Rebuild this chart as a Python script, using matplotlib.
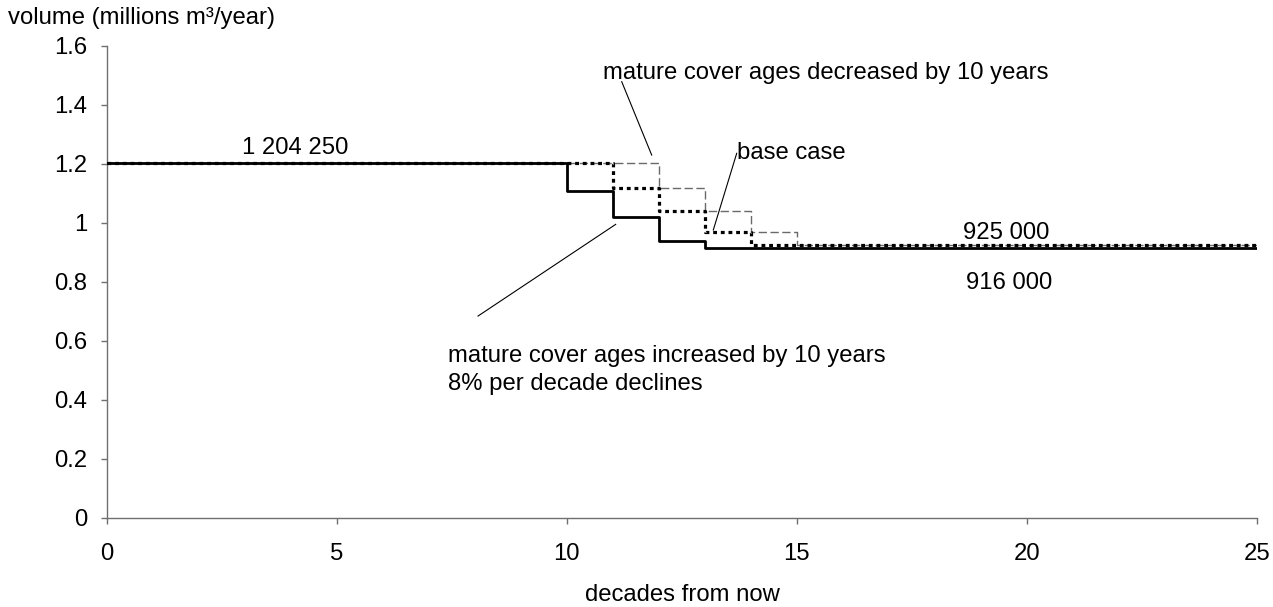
import matplotlib
matplotlib.use("Agg")
import matplotlib.pyplot as plt

plt.rcParams['font.family'] = ['Liberation Sans', 'DejaVu Sans']

# Harvest volume scenarios (millions m3/year), step changes per decade
x_increased = [0, 10, 11, 12, 13, 25]
y_increased = [1.20425, 1.1079, 1.0193, 0.9377, 0.916, 0.916]

x_base = [0, 11, 12, 13, 14, 25]
y_base = [1.20425, 1.120, 1.042, 0.969, 0.925, 0.925]

x_decreased = [0, 12, 13, 14, 15, 25]
y_decreased = [1.20425, 1.120, 1.042, 0.969, 0.925, 0.925]

x_ticks = [0, 5, 10, 15, 20, 25]
y_ticks = [0, 0.2, 0.4, 0.6, 0.8, 1.0, 1.2, 1.4, 1.6]

FS = 17.2
spine_col = '#707070'

fig = plt.figure(figsize=(12.73, 6.07), dpi=100)
ax = fig.add_axes([106.7 / 1273, (607 - 517.7) / 607,
                   (1256.7 - 106.7) / 1273, (517.7 - 46.0) / 607])

ax.plot(x_decreased, y_decreased, drawstyle='steps-post', color='#6a6a6a',
        lw=1.0, dashes=(6, 2.5), zorder=2)
ax.plot(x_increased, y_increased, drawstyle='steps-post', color='black',
        lw=2.0, zorder=3)
ax.plot(x_base, y_base, drawstyle='steps-post', color='black',
        lw=2.3, dashes=(1.2, 1.2), zorder=4)

ax.set_xlim(0, 25)
ax.set_ylim(0, 1.6)
ax.set_xticks(x_ticks)
ax.set_yticks(y_ticks)
ax.set_xticklabels([f"{v:g}" for v in x_ticks])
ax.set_yticklabels([f"{v:g}" for v in y_ticks])

for s in ['top', 'right']:
    ax.spines[s].set_visible(False)
for s in ['left', 'bottom']:
    ax.spines[s].set_color(spine_col)
    ax.spines[s].set_linewidth(1.0)

ax.tick_params(axis='x', direction='out', length=4, width=1.0,
               color=spine_col, pad=14.5, labelsize=FS)
ax.tick_params(axis='y', direction='out', length=4, width=1.0,
               color=spine_col, pad=10, labelsize=FS)

fig.text(682 / 1273, 1 - 595 / 607, 'decades from now', fontsize=FS,
         ha='center', va='center')
fig.text(8 / 1273, 1 - 18 / 607, 'volume (millions m³/year)', fontsize=FS,
         ha='left', va='center')

# Value labels
ax.text(4.09, 1.254, '1 204 250', fontsize=FS, ha='center', va='center')
ax.text(19.55, 0.967, '925 000', fontsize=FS, ha='center', va='center')
ax.text(19.62, 0.795, '916 000', fontsize=FS, ha='center', va='center')

# Scenario labels with leader lines
ax.text(10.79, 1.508, 'mature cover ages decreased by 10 years', fontsize=FS,
        ha='left', va='center')
ax.plot([11.196, 11.848], [1.479, 1.230], color='black', lw=0.8)

ax.text(13.70, 1.238, 'base case', fontsize=FS, ha='left', va='center')
ax.plot([13.696, 13.187], [1.236, 0.976], color='black', lw=0.8)

ax.text(7.41, 0.549, 'mature cover ages increased by 10 years',
        fontsize=FS, ha='left', va='center')
ax.text(7.41, 0.454, '8% per decade declines',
        fontsize=FS, ha='left', va='center')
ax.plot([8.072, 11.065], [0.684, 0.995], color='black', lw=0.8)

fig.savefig('out.png', dpi=100)
